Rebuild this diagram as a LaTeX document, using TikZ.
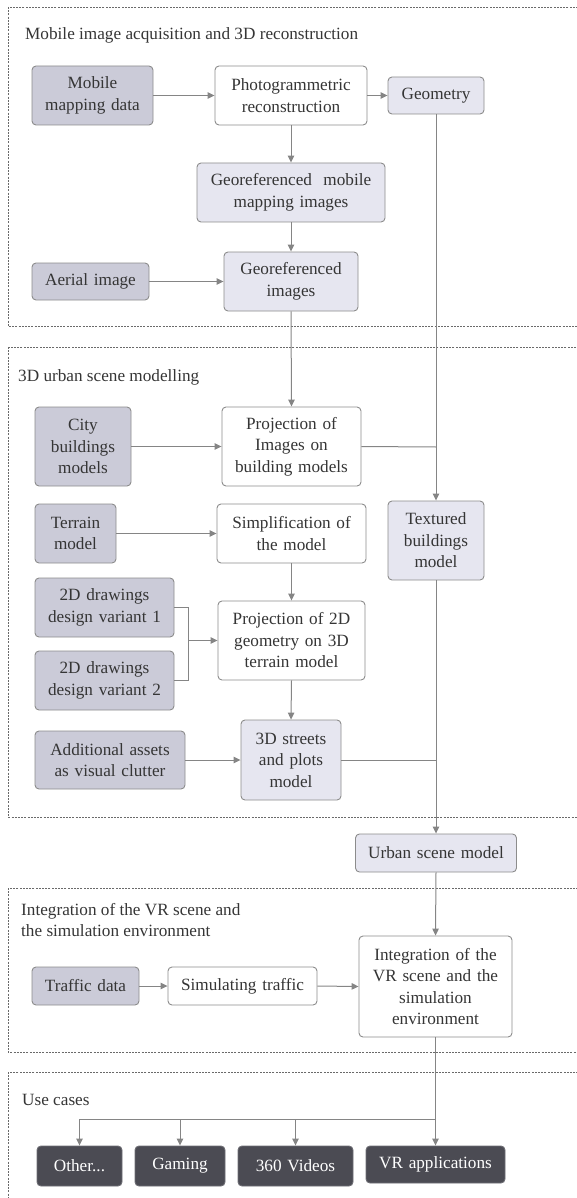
\documentclass[tikz,border=0pt]{standalone}
\usepackage{fontspec}
\setmainfont{Liberation Serif}
\usetikzlibrary{arrows.meta,calc}
\definecolor{txt}{HTML}{353535}
\definecolor{linec}{HTML}{858585}
\definecolor{boxline}{HTML}{8C8C8C}
\definecolor{inputfill}{HTML}{CBCBD8}
\definecolor{midfill}{HTML}{E6E6F0}
\definecolor{darkfill}{HTML}{4B4B53}
\definecolor{dashc}{HTML}{6A6A6A}
\tikzset{
  basebox/.style={draw=boxline, line width=0.9pt, rounded corners=4pt, align=center,
    inner sep=0pt, text=txt, font=\fontsize{17.2}{21.5}\selectfont},
  inbox/.style={basebox, fill=inputfill},
  procbox/.style={basebox, fill=white},
  resbox/.style={basebox, fill=midfill},
  usebox/.style={basebox, fill=darkfill, draw=darkfill!80!white, text=white},
  conn/.style={draw=linec, line width=1pt, -{Triangle[length=7pt,width=6.5pt]}},
  plain/.style={draw=linec, line width=1pt},
  section/.style={draw=dashc, line width=0.8pt, dash pattern=on 2pt off 1.2pt},
  sectitle/.style={anchor=base west, inner sep=0pt, text=txt, font=\fontsize{17.2}{21.5}\selectfont, align=left}
}
\newcommand{\bx}[6]{\node[#1, minimum width=#4pt, minimum height=#5pt, text width=#4pt-2pt] (#2) at (#3) {#6};}
\begin{document}
\begin{tikzpicture}[x=1pt,y=-1pt]
\useasboundingbox (0,0) rectangle (576,1198);
% sections
\draw[section] (8,7) rectangle (582,326);
\draw[section] (8,347) rectangle (582,817);
\draw[section] (8,888) rectangle (582,1052);
\draw[section] (8,1072) rectangle (582,1204);
\node[sectitle] (t1) at (25,40) {Mobile image acquisition and 3D reconstruction};
\node[sectitle] (t2) at (18,381) {3D urban scene modelling};
\node[sectitle] (t3a) at (21,915) {Integration of the VR scene and};
\node[sectitle] (t3b) at (21,936) {the simulation environment};
\node[sectitle] (t4) at (22,1105) {Use cases};
% section 1
\bx{inbox}{mmd}{92.5,95.5}{121}{59}{Mobile\\mapping data}
\bx{procbox}{photo}{291,95.5}{152}{59}{Photogrammetric\\reconstruction}
\bx{resbox}{geom}{436,95.5}{96}{37}{Geometry}
\bx{resbox}{gmmi}{291,192.5}{188}{59}{Georeferenced~ mobile\\mapping images}
\bx{inbox}{aerial}{90.5,281.5}{117}{37}{Aerial image}
\bx{resbox}{gimg}{291,281.5}{134}{59}{Georeferenced\\images}
% section 2
\bx{inbox}{city}{83,446.5}{96}{79}{City\\buildings\\models}
\bx{procbox}{proj1}{291.5,446.5}{139}{79}{Projection of\\Images on\\building models}
\bx{resbox}{tbm}{436,540.5}{96}{79}{Textured\\buildings\\model}
\bx{inbox}{terrain}{75.5,533.5}{81}{59}{Terrain\\model}
\bx{procbox}{simp}{291.5,533.5}{149}{59}{Simplification of\\the model}
\bx{inbox}{dv1}{104.5,607.5}{139}{59}{2D drawings\\design variant 1}
\bx{inbox}{dv2}{104.5,680.5}{139}{59}{2D drawings\\design variant 2}
\bx{procbox}{proj2}{291.5,640.5}{147}{79}{Projection of 2D\\geometry on 3D\\terrain model}
\bx{resbox}{streets}{291,760}{100}{80}{3D streets\\and plots\\model}
\bx{inbox}{assets}{110,760}{150}{58}{Additional assets\\as visual clutter}
% between
\bx{resbox}{urban}{436,853}{161}{38}{Urban scene model}
% section 3
\bx{inbox}{traffic}{85.5,986}{107}{38}{Traffic data}
\bx{procbox}{sim}{242.5,986}{149}{38}{Simulating traffic}
\bx{procbox}{integ}{435.5,986.5}{153}{101}{Integration of the\\VR scene and the\\simulation\\environment}
% section 4
\bx{usebox}{other}{79.5,1166}{85}{40}{Other...}
\bx{usebox}{gaming}{180,1166}{90}{40}{Gaming}
\bx{usebox}{videos}{295.5,1166}{115}{40}{360 Videos}
\bx{usebox}{vrapp}{435.5,1164.5}{139}{37}{VR applications}
% coordinates
\coordinate (j1) at (436,447);
\coordinate (j2) at (436,760);
\coordinate (b1) at (188,607.5);
\coordinate (b2) at (188,680.5);
\coordinate (bm) at (188,640.5);
\coordinate (u0) at (435.5,1119);
% connectors
\draw[conn] (mmd.east) -- (photo.west);
\draw[conn] (photo.east) -- (geom.west);
\draw[conn] (photo.south) -- (gmmi.north);
\draw[conn] (gmmi.south) -- (gimg.north);
\draw[conn] (aerial.east) -- (gimg.west);
\draw[conn] (gimg.south) -- (proj1.north);
\draw[conn] (geom.south) -- (tbm.north);
\draw[plain] (proj1.east) -- (j1);
\draw[conn] (city.east) -- (proj1.west);
\draw[conn] (terrain.east) -- (simp.west);
\draw[conn] (simp.south) -- (proj2.north);
\draw[plain] (dv1.east) -- (b1) -- (b2) -- (dv2.east);
\draw[conn] (bm) -- (proj2.west);
\draw[conn] (proj2.south) -- (streets.north);
\draw[conn] (assets.east) -- (streets.west);
\draw[conn] (tbm.south) -- (urban.north);
\draw[plain] (streets.east) -- (j2);
\draw[conn] (urban.south) -- (integ.north);
\draw[conn] (traffic.east) -- (sim.west);
\draw[conn] (sim.east) -- (integ.west);
\draw[conn] (integ.south) -- (vrapp.north);
\draw[conn] (u0) -| (other.north);
\draw[conn] (u0 -| gaming.north) -- (gaming.north);
\draw[conn] (u0 -| videos.north) -- (videos.north);
\end{tikzpicture}
\end{document}
